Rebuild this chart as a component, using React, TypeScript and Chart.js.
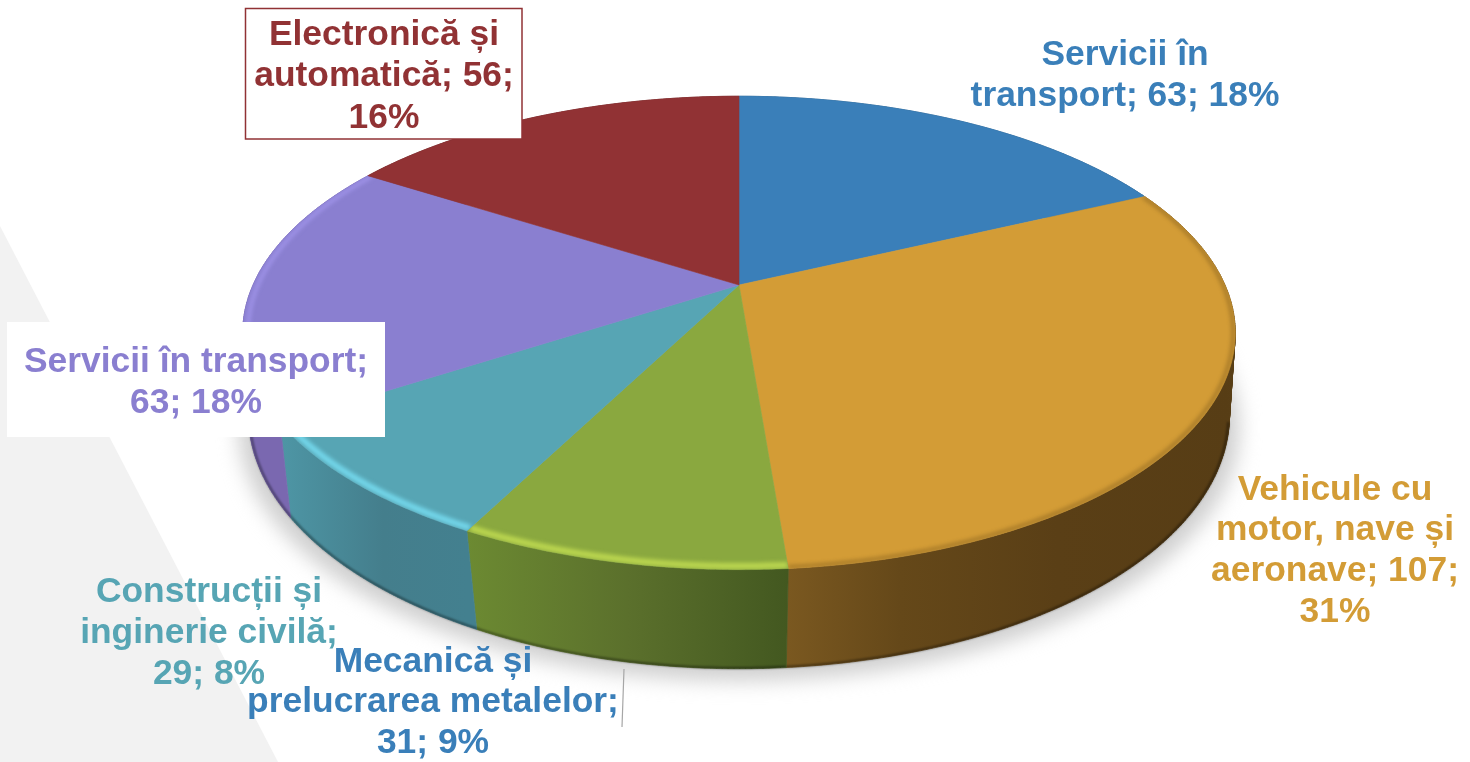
import React, { useEffect, useRef } from "react";
import { Chart, registerables } from "chart.js";

Chart.register(...registerables);

const categories = [
  "Servicii în transport",
  "Vehicule cu motor, nave și aeronave",
  "Mecanică și prelucrarea metalelor",
  "Construcții și inginerie civilă",
  "Servicii în transport ",
  "Electronică și automatică",
];
const values = [63, 107, 31, 29, 63, 56];
const percents = [18, 31, 9, 8, 18, 16];

const labelLines = [
  ["Servicii în", `transport; ${values[0]}; ${percents[0]}%`],
  ["Vehicule cu", "motor, nave și", `aeronave; ${values[1]};`, `${percents[1]}%`],
  ["Mecanică și", "prelucrarea metalelor;", `${values[2]}; ${percents[2]}%`],
  ["Construcții și", "inginerie civilă;", `${values[3]}; ${percents[3]}%`],
  ["Servicii în transport;", `${values[4]}; ${percents[4]}%`],
  ["Electronică și", `automatică; ${values[5]};`, `${percents[5]}%`],
];

const topColors = ["#3a7fb9", "#d39c36", "#8aa83f", "#57a5b4", "#8a7fd0", "#913234"];
const textColors = ["#3a7fb9", "#d39c36", "#3a7fb9", "#57a5b4", "#8a7fd0", "#913234"];
const bevelColors = [null, "rgba(100,70,20,0.6)", "#bdd850", "#74d8ec", "rgba(172,160,248,0.8)", null];
const bevelWidths = [0, 2.5, 6, 6, 3, 0];
const bevelInsets = [1, 0.996, 0.99, 0.99, 0.99, 1];
const wallStops: [number, string][][] = [
  [[0, "#2a5c86"], [1, "#2a5c86"]],
  [[0, "#7a5820"], [0.25, "#654819"], [0.6, "#5a3f16"], [1, "#573d15"]],
  [[0, "#6c8a32"], [0.5, "#5b702c"], [1, "#435820"]],
  [[0, "#4e96a5"], [0.55, "#447e8c"], [1, "#43808f"]],
  [[0, "#7a68b0"], [1, "#7a68b0"]],
  [[0, "#692426"], [1, "#692426"]],
];
const labelCenters: [number, number, number][] = [
  [1125, 55, 41],
  [1335, 490, 40.7],
  [433, 662, 40.7],
  [209, 592, 41],
  [196, 362, 41],
  [384, 35, 41.5],
];

const FONT = "bold 35.4px 'Liberation Sans', Arial, sans-serif";

const topRim = { cx: 739, cy: 285, a: 486, b: 227, k: -0.2025 };
const lowRim = { cx: 739, cy: 371, a: 483, b: 246, k: -0.1738 };
type Rim = typeof topRim;

const project = (r: Rim, ang: number, s = 1): [number, number] => {
  const x = Math.cos(ang) * s;
  const y = Math.sin(ang) * s;
  const d = 1 + r.k * y;
  return [r.cx + (r.a * x) / d, r.cy + (r.b * y) / d];
};

const samples = (a0: number, a1: number) => {
  const n = Math.max(2, Math.ceil(Math.abs(a1 - a0) / 0.01));
  const out: number[] = [];
  for (let i = 0; i <= n; i++) out.push(a0 + ((a1 - a0) * i) / n);
  return out;
};

const piePlugin = {
  id: "projectedPie",
  beforeDraw(chart: any) {
    const ctx = chart.ctx;
    ctx.save();
    ctx.fillStyle = "#ffffff";
    ctx.fillRect(0, 0, chart.width, chart.height);
    ctx.fillStyle = "#f2f2f2";
    ctx.beginPath();
    ctx.moveTo(0, 226);
    ctx.lineTo(278, 762);
    ctx.lineTo(0, 762);
    ctx.closePath();
    ctx.fill();
    ctx.restore();
  },
  beforeDatasetsDraw(chart: any) {
    const ctx: CanvasRenderingContext2D = chart.ctx;
    const arcs = chart.getDatasetMeta(0).data as any[];

    // soft shadow under the disc
    ctx.save();
    ctx.filter = "blur(10px)";
    ctx.fillStyle = "#cfcfcf";
    ctx.beginPath();
    samples(0, Math.PI * 2).forEach((t, i) => {
      const [x, y] = project(lowRim, t);
      const sx = x + (x - 739) * 0.02;
      if (i) ctx.lineTo(sx, y + 12);
      else ctx.moveTo(sx, y + 12);
    });
    ctx.closePath();
    ctx.fill();
    ctx.restore();

    // side walls, one narrow quad per step so the silhouette has no notch
    arcs.forEach((arc, i) => {
      const pts = samples(arc.startAngle, arc.endAngle);
      const xs = pts.map((t) => project(topRim, t)[0]);
      const g = ctx.createLinearGradient(Math.min(...xs), 0, Math.max(...xs), 0);
      wallStops[i].forEach(([o, c]) => g.addColorStop(o, c));
      ctx.save();
      ctx.fillStyle = g;
      ctx.strokeStyle = g;
      ctx.lineWidth = 0.7;
      ctx.beginPath();
      for (let j = 0; j < pts.length - 1; j++) {
        const a = project(topRim, pts[j]);
        const b = project(topRim, pts[j + 1]);
        const c = project(lowRim, pts[j + 1]);
        const d = project(lowRim, pts[j]);
        ctx.moveTo(a[0], a[1]);
        ctx.lineTo(b[0], b[1]);
        ctx.lineTo(c[0], c[1]);
        ctx.lineTo(d[0], d[1]);
        ctx.closePath();
      }
      ctx.fill("nonzero");
      ctx.stroke();
      // dark lower edge, only where the lower rim is on the visible front side
      const front = pts.filter((t) => Math.sin(t) > 0.2);
      if (front.length > 1) {
        ctx.filter = "blur(1px)";
        ctx.strokeStyle = "rgba(0,0,0,0.45)";
        ctx.lineWidth = 2;
        ctx.beginPath();
        front.forEach((t, j) => {
          const [x, y] = project(lowRim, t, 0.998);
          if (j) ctx.lineTo(x, y);
          else ctx.moveTo(x, y);
        });
        ctx.stroke();
      }
      ctx.restore();
    });

    // top surface
    arcs.forEach((arc, i) => {
      const pts = samples(arc.startAngle, arc.endAngle);
      const trace = () => {
        ctx.beginPath();
        ctx.moveTo(topRim.cx, topRim.cy);
        pts.forEach((t) => {
          const [x, y] = project(topRim, t);
          ctx.lineTo(x, y);
        });
        ctx.closePath();
      };
      ctx.save();
      trace();
      ctx.fillStyle = topColors[i];
      ctx.fill();
      ctx.strokeStyle = topColors[i];
      ctx.lineWidth = 0.6;
      ctx.stroke();
      const bevel = bevelColors[i];
      if (bevel) {
        trace();
        ctx.clip();
        ctx.filter = "blur(2.2px)";
        ctx.strokeStyle = bevel;
        ctx.lineWidth = bevelWidths[i];
        ctx.beginPath();
        pts.forEach((t, j) => {
          const [x, y] = project(topRim, t, bevelInsets[i]);
          if (j) ctx.lineTo(x, y);
          else ctx.moveTo(x, y);
        });
        ctx.stroke();
      }
      ctx.restore();
    });
    return false;
  },
  afterDraw(chart: any) {
    const ctx: CanvasRenderingContext2D = chart.ctx;
    ctx.save();

    // thin leader line
    ctx.strokeStyle = "#a6a6a6";
    ctx.lineWidth = 1.2;
    ctx.beginPath();
    ctx.moveTo(624, 669);
    ctx.lineTo(622, 727);
    ctx.stroke();

    // label boxes
    ctx.fillStyle = "#ffffff";
    ctx.fillRect(7, 322, 378, 115);
    ctx.fillRect(245, 8, 277, 131);
    ctx.strokeStyle = "#913234";
    ctx.lineWidth = 1.5;
    ctx.strokeRect(245.5, 8.5, 276.5, 130.5);

    // data labels
    ctx.font = FONT;
    ctx.textAlign = "center";
    ctx.textBaseline = "middle";
    labelLines.forEach((lines, i) => {
      const [cx, y0, step] = labelCenters[i];
      ctx.fillStyle = textColors[i];
      lines.forEach((line, j) => ctx.fillText(line, cx, y0 + j * step));
    });
    ctx.restore();
  },
};

export default function App() {
  const ref = useRef<HTMLCanvasElement>(null);
  useEffect(() => {
    const chart = new Chart(ref.current!, {
      type: "pie",
      data: {
        labels: categories,
        datasets: [{ data: values, backgroundColor: topColors, borderWidth: 0 }],
      },
      options: {
        responsive: false,
        animation: false,
        plugins: { legend: { display: false }, tooltip: { enabled: false } },
      },
      plugins: [piePlugin],
    } as any);
    return () => chart.destroy();
  }, []);
  return (
    <canvas
      ref={ref}
      width={1470}
      height={762}
      style={{ position: "fixed", left: 0, top: 0, display: "block" }}
    />
  );
}
